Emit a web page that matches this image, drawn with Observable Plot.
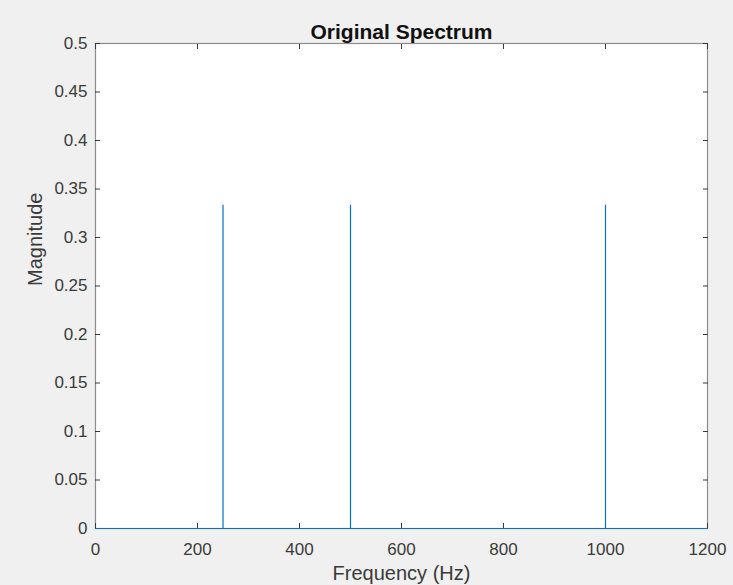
<!DOCTYPE html>
<html>
<head>
<meta charset="utf-8">
<script src="https://cdn.jsdelivr.net/npm/d3@7"></script>
<script src="https://cdn.jsdelivr.net/npm/@observablehq/plot@0.6"></script>
<style>
  html, body { margin: 0; padding: 0; background: #f0f0f0; }
  svg { display: block; }
</style>
</head>
<body>
<div id="chart"></div>
<script>
const titleText = "Original Spectrum";
const xLabel = "Frequency (Hz)";
const yLabel = "Magnitude";
const xTicks = [0, 200, 400, 600, 800, 1000, 1200];
const yTicks = [0, 0.05, 0.1, 0.15, 0.2, 0.25, 0.3, 0.35, 0.4, 0.45, 0.5];
const peakFreqs = [250, 500, 1000];
const peakMags = [0.3333, 0.3333, 0.3333];
const baseFreqs = [0, 1200];
const baseMags = [0, 0];

const peaks = peakFreqs.map((f, i) => ({f, m: peakMags[i]}));
const base = baseFreqs.map((f, i) => ({f, m: baseMags[i]}));

const blue = "#0072BD";
const axisColor = "#3a3a3a";
const fontFamily = "'Liberation Sans', Arial, Helvetica, sans-serif";

const chart = Plot.plot({
  width: 733,
  height: 585,
  marginLeft: 95,
  marginRight: 26,
  marginTop: 43,
  marginBottom: 57,
  style: {background: "#f0f0f0", fontFamily, fontSize: "17px", color: axisColor},
  x: {domain: [0, 1200]},
  y: {domain: [0, 0.5]},
  marks: [
    Plot.frame({fill: "white", stroke: "#8c8c8c", strokeWidth: 1.2}),
    Plot.axisX(xTicks, {anchor: "bottom", tickSize: -5, tickPadding: 19, label: null, stroke: axisColor, fill: axisColor, fontSize: 17, tickFormat: d => String(d)}),
    Plot.axisX(xTicks, {anchor: "top", tickSize: -5, text: null, label: null, stroke: axisColor}),
    Plot.axisY(yTicks, {anchor: "left", tickSize: -5, tickPadding: 13, label: null, stroke: axisColor, fill: axisColor, fontSize: 17, tickFormat: d => String(+d.toFixed(2))}),
    Plot.axisY(yTicks, {anchor: "right", tickSize: -5, text: null, label: null, stroke: axisColor}),
    Plot.line(base, {x: "f", y: "m", stroke: blue, strokeWidth: 1.2}),
    Plot.ruleX(peaks, {x: "f", y1: 0, y2: "m", stroke: blue, strokeWidth: 1.2}),
    Plot.text([titleText], {frameAnchor: "top", dy: -5, lineAnchor: "bottom", fontWeight: "bold", fontSize: 21, fill: "#111"}),
    Plot.text([xLabel], {frameAnchor: "bottom", dy: 37, lineAnchor: "top", fontSize: 20, fill: axisColor}),
    Plot.text([yLabel], {frameAnchor: "left", dx: -60, rotate: -90, fontSize: 20, fill: axisColor})
  ]
});
document.getElementById("chart").appendChild(chart);
</script>
</body>
</html>
